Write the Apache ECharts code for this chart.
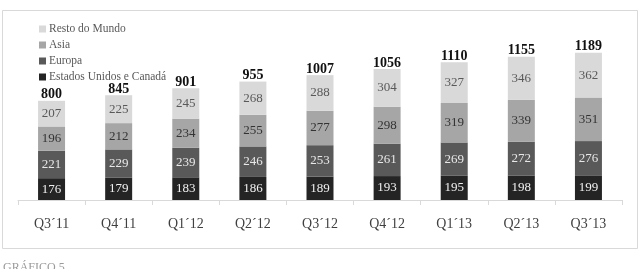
<!DOCTYPE html>
<html>
<head>
<meta charset="utf-8">
<script src="https://cdn.jsdelivr.net/npm/echarts@6/dist/echarts.min.js"></script>
<style>
  html, body { margin: 0; padding: 0; background: #fff; }
  #chart { width: 641px; height: 269px; }
</style>
</head>
<body>
<div id="chart"></div>
<script>
const quarters = ['Q3´11', 'Q4´11', 'Q1´12', 'Q2´12', 'Q3´12', 'Q4´12', 'Q1´13', 'Q2´13', 'Q3´13']
const usaCanada = [176, 179, 183, 186, 189, 193, 195, 198, 199]
const europa = [221, 229, 239, 246, 253, 261, 269, 272, 276]
const asia = [196, 212, 234, 255, 277, 298, 319, 339, 351]
const restoMundo = [207, 225, 245, 268, 288, 304, 327, 346, 362]
const totals = [800, 845, 901, 955, 1007, 1056, 1110, 1155, 1189]

const serif = '"Liberation Serif", "DejaVu Serif", serif'
const chart = echarts.init(document.getElementById('chart'))

// segmento apilado con etiqueta centrada
const seg = (name, data, color, labelColor) => ({
  name,
  type: 'bar',
  stack: 'total',
  barWidth: 27,
  data,
  itemStyle: { color },
  label: {
    show: true,
    position: 'inside',
    color: labelColor,
    fontFamily: serif,
    fontSize: 13,
  },
})

chart.setOption({
  animation: false,
  textStyle: { fontFamily: serif },
  graphic: [
    {
      type: 'rect',
      shape: { x: 2.5, y: 10.5, width: 635, height: 238 },
      style: { fill: 'none', stroke: '#d9d9d9', lineWidth: 1 },
      silent: true,
    },
    {
      type: 'text',
      left: 3,
      top: 262,
      style: { text: 'GRÁFICO 5', fill: '#9a9a9a', font: '12px ' + serif },
      silent: true,
    },
  ],
  legend: {
    orient: 'vertical',
    left: 34,
    top: 18,
    itemWidth: 7,
    itemHeight: 7,
    itemGap: 4,
    icon: 'rect',
    data: ['Resto do Mundo', 'Asia', 'Europa', 'Estados Unidos e Canadá'],
    textStyle: { color: '#595959', fontSize: 11.5, fontFamily: serif, padding: [0, 0, 0, -2] },
  },
  grid: { left: 18, right: 19, top: 26.4, bottom: 69 },
  xAxis: {
    type: 'category',
    data: quarters,
    axisLine: { lineStyle: { color: '#d9d9d9' } },
    axisTick: { show: true, length: 5, lineStyle: { color: '#d9d9d9' } },
    axisLabel: { color: '#404040', fontSize: 14, fontFamily: serif, margin: 17 },
  },
  yAxis: { type: 'value', min: 0, max: 1400, show: false, splitLine: { show: false } },
  series: [
    seg('Estados Unidos e Canadá', usaCanada, '#242424', '#f0f0f0'),
    seg('Europa', europa, '#595959', '#e8e8e8'),
    seg('Asia', asia, '#a6a6a6', '#333333'),
    seg('Resto do Mundo', restoMundo, '#d9d9d9', '#595959'),
    {
      name: 'Total',
      type: 'bar',
      stack: 'total',
      barWidth: 27,
      data: totals.map(() => 0),
      itemStyle: { color: 'transparent' },
      label: {
        show: true,
        position: 'top',
        distance: -1,
        color: '#111',
        fontWeight: 'bold',
        fontSize: 14,
        fontFamily: serif,
        formatter: p => totals[p.dataIndex],
      },
    },
  ],
})
</script>
</body>
</html>
